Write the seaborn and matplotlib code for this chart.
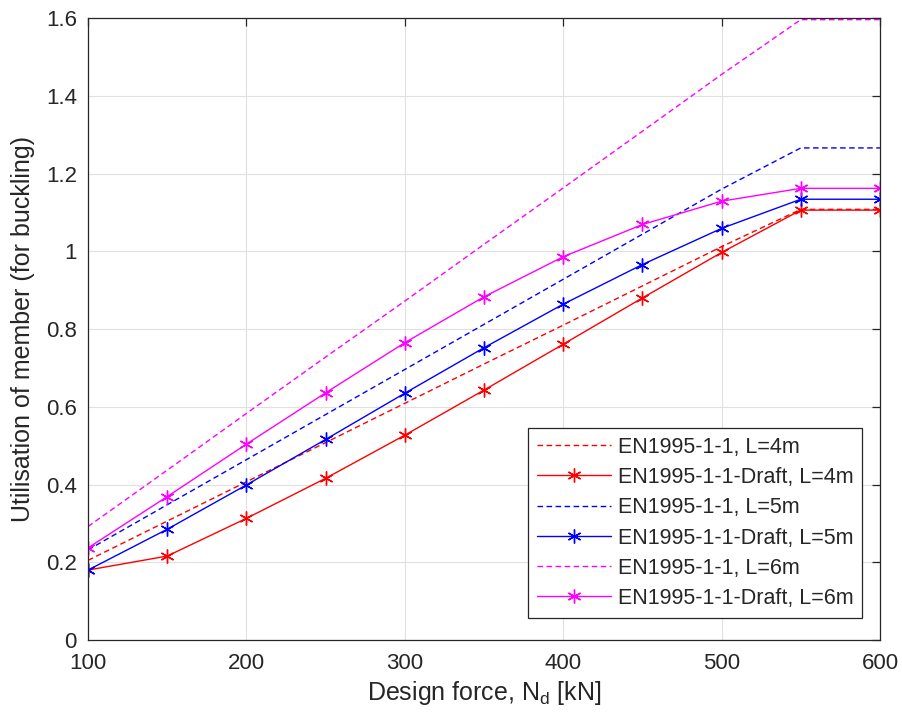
import matplotlib
matplotlib.use("Agg")
import matplotlib.pyplot as plt
from matplotlib.ticker import FuncFormatter
import numpy as np
import pandas as pd
import seaborn as sns

# Design axial force [kN]
force_kn = [100, 150, 200, 250, 300, 350, 400, 450, 500, 550, 600]

# Utilisation for buckling, current code (EN1995-1-1)
en_l4 = [0.205, 0.306, 0.407, 0.508, 0.609, 0.710, 0.810, 0.911, 1.012, 1.108, 1.108]
en_l5 = [0.232, 0.348, 0.464, 0.580, 0.696, 0.812, 0.928, 1.044, 1.160, 1.266, 1.266]
en_l6 = [0.292, 0.437, 0.583, 0.728, 0.872, 1.018, 1.163, 1.309, 1.455, 1.596, 1.596]

# Utilisation for buckling, draft code (EN1995-1-1-Draft)
draft_l4 = [0.180, 0.216, 0.313, 0.416, 0.527, 0.643, 0.761, 0.880, 0.997, 1.106, 1.106]
draft_l5 = [0.180, 0.285, 0.399, 0.516, 0.635, 0.752, 0.864, 0.966, 1.059, 1.134, 1.134]
draft_l6 = [0.237, 0.369, 0.504, 0.636, 0.765, 0.883, 0.986, 1.069, 1.129, 1.162, 1.162]

series = [
    ("EN1995-1-1, L=4m", en_l4, "#ff0000", False),
    ("EN1995-1-1-Draft, L=4m", draft_l4, "#ff0000", True),
    ("EN1995-1-1, L=5m", en_l5, "#0000ff", False),
    ("EN1995-1-1-Draft, L=5m", draft_l5, "#0000ff", True),
    ("EN1995-1-1, L=6m", en_l6, "#ff00ff", False),
    ("EN1995-1-1-Draft, L=6m", draft_l6, "#ff00ff", True),
]

sns.set_style("white")
plt.rcParams["font.family"] = ["Liberation Sans", "DejaVu Sans"]
plt.rcParams["mathtext.fontset"] = "custom"
plt.rcParams["mathtext.rm"] = "Liberation Sans"
plt.rcParams["mathtext.it"] = "Liberation Sans"

TXT = "#262626"

fig = plt.figure(figsize=(9.02, 7.24), dpi=100)
ax = fig.add_axes([0.0976, 0.116, 0.878, 0.859])

for label, vals, color, draft in series:
    df = pd.DataFrame({"force": force_kn, "util": vals})
    if draft:
        sns.lineplot(data=df, x="force", y="util", ax=ax, color=color,
                     linewidth=1.0, marker=(6, 2, 0), markersize=10,
                     markeredgewidth=1.0, markeredgecolor=color,
                     label=label, estimator=None, sort=False)
    else:
        sns.lineplot(data=df, x="force", y="util", ax=ax, color=color,
                     linewidth=1.0, label=label, estimator=None, sort=False)
        ax.lines[-1].set_dashes((4.0, 2.5))

ax.set_xlim(100, 600)
ax.set_ylim(0, 1.6)
ax.set_xticks(np.arange(100, 601, 100))
ax.set_yticks(np.arange(0, 1.61, 0.2))
ax.yaxis.set_major_formatter(FuncFormatter(lambda v, p: f"{v:g}"))

ax.grid(True, color="#e0e0e0", linewidth=0.8)
ax.set_axisbelow(True)
for sp in ax.spines.values():
    sp.set_color(TXT)
    sp.set_linewidth(0.9)
ax.tick_params(axis="both", which="both", direction="in", length=6,
               width=0.9, color=TXT, labelsize=16, labelcolor=TXT,
               top=True, right=True)
ax.tick_params(axis="x", pad=9)
ax.tick_params(axis="y", pad=8)

ax.set_xlabel("Design force, N$_\\mathregular{d}$ [kN]", fontsize=18,
              color=TXT, labelpad=4)
ax.set_ylabel("Utilisation of member (for buckling)", fontsize=18,
              color=TXT, labelpad=8)

leg = ax.legend(loc="lower right", bbox_to_anchor=(0.977, 0.036),
                fontsize=15.5, frameon=True, fancybox=False, framealpha=1,
                edgecolor=TXT, handlelength=3.45, borderpad=0.4,
                labelspacing=0.43, handletextpad=0.3, borderaxespad=0)
leg.get_frame().set_linewidth(0.9)

fig.savefig("out.png", dpi=100, facecolor="white")
